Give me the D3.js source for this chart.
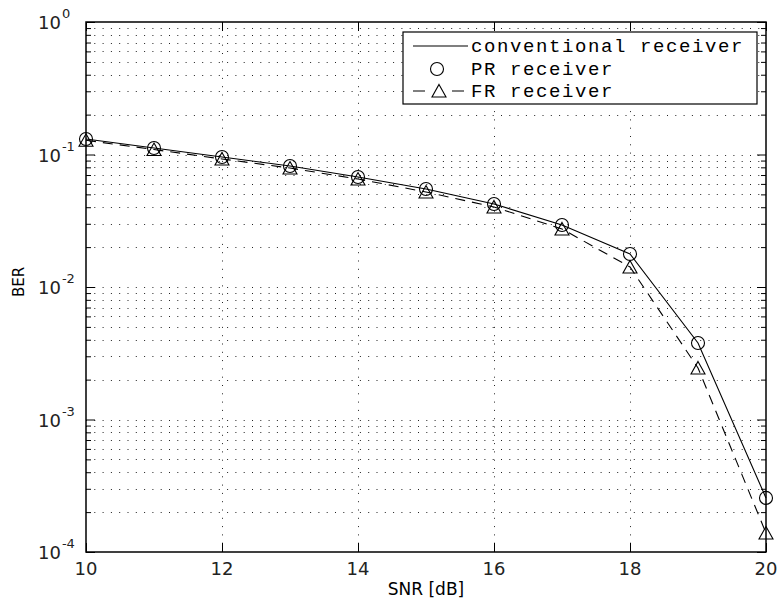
<!DOCTYPE html>
<html>
<head>
<meta charset="utf-8">
<script src="https://cdn.jsdelivr.net/npm/d3@7"></script>
<style>
  body { margin: 0; background: #fff; }
  svg { display: block; }
</style>
</head>
<body>
<div class="chart"></div>
<script>
// data
var snr = [10, 11, 12, 13, 14, 15, 16, 17, 18, 19, 20];
var berConventional = [0.131, 0.112, 0.0958, 0.0819, 0.0677, 0.0549, 0.0423, 0.0294, 0.01775, 0.00378, 0.000256];
var berPR = [0.131, 0.112, 0.0958, 0.0819, 0.0677, 0.0549, 0.0423, 0.0294, 0.01775, 0.00378, 0.000256];
var berFR = [0.128, 0.109, 0.0925, 0.079, 0.0653, 0.0521, 0.0402, 0.0274, 0.01416, 0.00245, 0.000139];
var xTicks = [10, 12, 14, 16, 18, 20];
var yExponents = [0, -1, -2, -3, -4];
var legendLabels = ["conventional receiver", "PR receiver", "FR receiver"];

var W = 779, H = 601;
var pL = 86, pT = 22, pR = 766, pB = 552;

var svg = d3.select("div.chart")
            .append("svg")
            .attr("width", W)
            .attr("height", H);

var x = d3.scaleLinear().domain([10, 20]).range([pL, pR]);
var y = d3.scaleLog().domain([1e-4, 1]).range([pB, pT]);

// minor log values 2..9 for each decade
var minorVals = [];
for (var e = -4; e < 0; e++) {
  for (var k = 2; k <= 9; k++) minorVals.push(k * Math.pow(10, e));
}
var majorVals = yExponents.map(function(p){ return Math.pow(10, p); });

//grid
var grid = svg.append("g").attr("class", "grid");
grid.selectAll(".hgrid")
    .data(minorVals.concat(majorVals.slice(1, 4)))
    .enter()
    .append("line")
    .attr("x1", pL).attr("x2", pR)
    .attr("y1", function(d){ return Math.round(y(d)) + 0.5; })
    .attr("y2", function(d){ return Math.round(y(d)) + 0.5; })
    .attr("stroke", "#222")
    .attr("stroke-width", 1)
    .attr("stroke-dasharray", "1,7.3");

grid.selectAll(".vgrid")
    .data(xTicks.slice(1, 5))
    .enter()
    .append("line")
    .attr("x1", function(d){ return Math.round(x(d)) + 0.5; })
    .attr("x2", function(d){ return Math.round(x(d)) + 0.5; })
    .attr("y1", pB).attr("y2", pT)
    .attr("stroke", "#222")
    .attr("stroke-width", 1)
    .attr("stroke-dasharray", "1,7.3");

//ticks (inward, on all four sides)
function tickAxis(axis, vals, size, tx, ty) {
  svg.append("g")
     .attr("transform", "translate(" + tx + "," + ty + ")")
     .call(axis.tickValues(vals).tickSize(size).tickFormat(""))
     .call(function(g){ g.select(".domain").remove(); });
}
tickAxis(d3.axisBottom(x), xTicks, -9, 0, pB);
tickAxis(d3.axisTop(x), xTicks, -9, 0, pT);
tickAxis(d3.axisLeft(y), majorVals, -9, pL, 0);
tickAxis(d3.axisRight(y), majorVals, -9, pR, 0);
tickAxis(d3.axisLeft(y), minorVals, -5, pL, 0);
tickAxis(d3.axisRight(y), minorVals, -5, pR, 0);

//x tick labels
svg.selectAll(".xlab")
    .data(xTicks)
    .enter()
    .append("text")
    .attr("x", function(d){ return x(d); })
    .attr("y", 575)
    .attr("text-anchor", "middle")
    .attr("font-family", "DejaVu Sans")
    .attr("font-size", 18)
    .attr("fill", "#222")
    .text(function(d){ return d; });

//y tick labels 10^n
var ylab = svg.selectAll(".ylab")
    .data(yExponents)
    .enter()
    .append("text")
    .attr("x", 38)
    .attr("y", function(d){ return y(Math.pow(10, d)) + 7; })
    .attr("font-family", "DejaVu Sans")
    .attr("fill", "#222");
ylab.append("tspan").attr("font-size", 18).text("10");
ylab.append("tspan").attr("font-size", 13).attr("dy", -11).attr("dx", 1)
    .text(function(d){ return d === 0 ? "0" : "-" + (-d); });

//axis titles
svg.append("text")
   .attr("x", (pL + pR) / 2)
   .attr("y", 595)
   .attr("text-anchor", "middle")
   .attr("font-family", "DejaVu Sans")
   .attr("font-size", 17)
   .text("SNR [dB]");

svg.append("text")
   .attr("transform", "translate(24,282)rotate(-90)")
   .attr("text-anchor", "middle")
   .attr("font-family", "DejaVu Sans")
   .attr("font-size", 15)
   .text("BER");

//lines
var line = d3.line()
    .x(function(d){ return x(d[0]); })
    .y(function(d){ return y(d[1]); });

svg.append("path")
   .datum(d3.zip(snr, berConventional))
   .attr("d", line)
   .attr("fill", "none")
   .attr("stroke", "#000")
   .attr("stroke-width", 1.1);

svg.append("path")
   .datum(d3.zip(snr, berFR))
   .attr("d", line)
   .attr("fill", "none")
   .attr("stroke", "#000")
   .attr("stroke-width", 1.1)
   .attr("stroke-dasharray", "10,7");

var triangle = "M0,-6.5L7,6L-7,6Z";

svg.selectAll(".pr")
   .data(d3.zip(snr, berPR))
   .enter()
   .append("circle")
   .attr("cx", function(d){ return x(d[0]); })
   .attr("cy", function(d){ return y(d[1]); })
   .attr("r", 6.5)
   .attr("fill", "none")
   .attr("stroke", "#000")
   .attr("stroke-width", 1.1);

svg.selectAll(".fr")
   .data(d3.zip(snr, berFR))
   .enter()
   .append("path")
   .attr("d", triangle)
   .attr("transform", function(d){ return "translate(" + x(d[0]) + "," + y(d[1]) + ")"; })
   .attr("fill", "none")
   .attr("stroke", "#000")
   .attr("stroke-width", 1.1);

//frame
svg.append("rect")
   .attr("x", pL).attr("y", pT)
   .attr("width", pR - pL).attr("height", pB - pT)
   .attr("fill", "none")
   .attr("stroke", "#000")
   .attr("stroke-width", 1.5);

//legend
var lg = svg.append("g").attr("transform", "translate(403,32)");
lg.append("rect")
  .attr("width", 354).attr("height", 72)
  .attr("fill", "#fff")
  .attr("stroke", "#000")
  .attr("stroke-width", 1.2);

var rowY = [14, 37, 59];
lg.selectAll(".ltext")
  .data(legendLabels)
  .enter()
  .append("text")
  .attr("x", 68)
  .attr("y", function(d, i){ return rowY[i] + 6; })
  .attr("font-family", "Liberation Mono")
  .attr("font-size", 19)
  .attr("letter-spacing", 1.6)
  .text(function(d){ return d; });

lg.append("line")
  .attr("x1", 10).attr("x2", 65)
  .attr("y1", rowY[0]).attr("y2", rowY[0])
  .attr("stroke", "#000").attr("stroke-width", 1.1);
lg.append("circle")
  .attr("cx", 34).attr("cy", rowY[1]).attr("r", 6.5)
  .attr("fill", "none").attr("stroke", "#000").attr("stroke-width", 1.1);
lg.append("line")
  .attr("x1", 10).attr("x2", 61)
  .attr("y1", rowY[2]).attr("y2", rowY[2])
  .attr("stroke", "#000").attr("stroke-width", 1.1)
  .attr("stroke-dasharray", "12,27,12");
lg.append("path")
  .attr("d", triangle)
  .attr("transform", "translate(36," + rowY[2] + ")")
  .attr("fill", "none").attr("stroke", "#000").attr("stroke-width", 1.1);
</script>
</body>
</html>
